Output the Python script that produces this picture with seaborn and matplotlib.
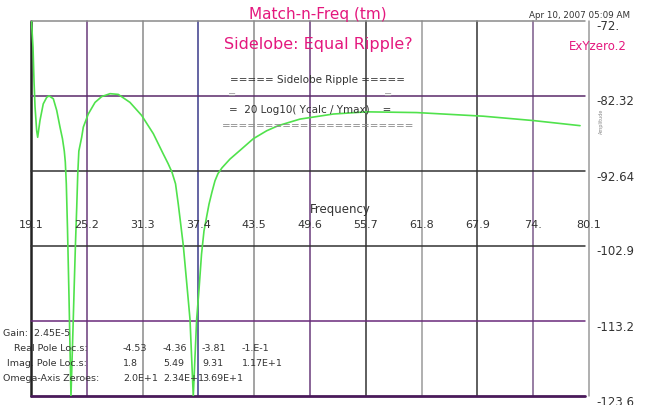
import matplotlib
matplotlib.use("Agg")
import matplotlib.pyplot as plt
import matplotlib.transforms as mtransforms
import seaborn as sns

# curve (frequency vs. 20 log10(Ycalc/Ymax))
freq = [19.15, 19.32, 19.43, 19.54, 19.72, 19.83, 20.08, 20.44, 20.82, 21.07,
        21.54, 21.91, 22.27, 22.54, 22.74, 22.85, 22.96, 23.09, 23.26, 23.47,
        23.69, 23.83, 23.96, 24.10, 24.21, 24.33, 24.64, 24.82, 25.36, 26.1,
        26.83, 27.74, 28.64, 29.92, 31.2, 32.47, 33.56, 34.08, 34.51, 34.90,
        35.20, 35.50, 35.75, 36.12, 36.48, 36.84, 37.21, 37.47, 37.74, 38.01,
        38.29, 38.56, 38.89, 39.21, 39.54, 39.98, 40.85, 41.95, 43.4, 44.87,
        46.13, 48.5, 52.15, 55.8, 61.27, 68.55, 74.01, 79.12]
level = [-72.0, -75.6, -80.3, -83.8, -87.1, -88.0, -85.7, -83.4, -82.5, -82.3,
         -82.7, -84.3, -86.6, -88.2, -89.9, -91.4, -94.4, -100.6, -110.3, -123.6,
         -114.4, -108.2, -102.7, -97.6, -93.1, -89.9, -88.0, -86.6, -84.8, -83.2,
         -82.4, -82.0, -82.1, -83.2, -85.0, -87.5, -90.3, -91.6, -92.8, -94.4,
         -97.2, -100.3, -102.9, -108.0, -113.0, -123.6, -113.0, -108.9, -104.1, -100.9,
         -99.0, -97.2, -95.5, -94.0, -93.0, -92.2, -91.0, -89.8, -88.2, -87.1,
         -86.4, -85.5, -84.8, -84.5, -84.6, -85.1, -85.7, -86.4]

x_ticks = [19.1, 25.2, 31.3, 37.4, 43.5, 49.6, 55.7, 61.8, 67.9, 74.0, 80.1]
x_labels = ["19.1", "25.2", "31.3", "37.4", "43.5", "49.6", "55.7", "61.8", "67.9", "74.", "80.1"]
y_ticks = [-72.0, -82.32, -92.64, -102.96, -113.28, -123.6]
y_labels = ["-72.", "-82.32", "-92.64", "-102.96", "-113.28", "-123.6"]

real_poles = ["-4.53", "-4.36", "-3.81", "-1.E-1"]
imag_poles = ["1.8", "5.49", "9.31", "1.17E+1"]
omega_zeros = ["2.0E+1", "2.34E+1", "3.69E+1"]
gain = "2.45E-5"

pink = "#e4187e"
green = "#50e24c"
vcolors = ["#222222", "#6a3a7a", "#8a8a8a", "#3a3a8a", "#8a8a8a", "#6a3a7a",
           "#333333", "#9a9a9a", "#333333", "#7a5a8a", "#9a9a9a"]
hcolors = ["#8a8a8a", "#5a2a6a", "#333333", "#333333", "#6a2a7a", "#4a1a5a"]

sns.set_style("white")
plt.rcParams["font.family"] = ["DejaVu Sans"]

W, H = 645, 406
fig = plt.figure(figsize=(W / 100, H / 100), dpi=100)
ax = fig.add_axes([31 / W, 1 - 397 / H, (589 - 31) / W, (397 - 22) / H])
for s in ax.spines.values():
    s.set_visible(False)
ax.set_xlim(x_ticks[0], x_ticks[-1])
ax.set_ylim(y_ticks[-1], y_ticks[0])
ax.set_xticks([])
ax.set_yticks([])

for i, (xv, c) in enumerate(zip(x_ticks, vcolors)):
    lw = 1.8 if i == 0 else 1.1
    ax.axvline(xv, color=c, lw=lw, zorder=1, clip_on=False)
for i, (yv, c) in enumerate(zip(y_ticks, hcolors)):
    lw = 2.0 if i == len(y_ticks) - 1 else 1.1
    ax.axhline(yv, xmin=0, xmax=0.993, color=c, lw=lw, zorder=1, clip_on=False)

sns.lineplot(x=freq, y=level, ax=ax, color=green, lw=1.2, sort=False,
             estimator=None, zorder=3)
ax.set_xlabel("")
ax.set_ylabel("")

# x tick labels drawn inside the plot
for xv, lab in zip(x_ticks, x_labels):
    ax.text(xv, 0.459, lab, transform=ax.get_xaxis_transform(), ha="center",
            va="center", fontsize=8, color="#333333", zorder=4)
ax.text(0.554, 0.499, "Frequency", transform=ax.transAxes, ha="center",
        va="center", fontsize=8.5, color="#333333")

# y tick labels on the right, cut off at the right like the original
ytrans = mtransforms.offset_copy(ax.get_yaxis_transform(), fig=fig, y=-5, units="dots")
clip = mtransforms.Bbox.from_extents(0, 0, 634, H)
for yv, lab in zip(y_ticks, y_labels):
    t = ax.text(1.0125, yv, lab, transform=ytrans, ha="left", va="center",
                fontsize=8.5, color="#333333", clip_on=True)
    t.set_clip_box(clip)
fig.text(601 / W, 1 - 121 / H, "Amplitude", rotation=90, fontsize=3.5,
         color="#888888", ha="center", va="center")


def ftext(x, y, s, **kw):
    fig.text(x / W, 1 - y / H, s, va="center", **kw)


ftext(318, 14, "Match-n-Freq (tm)", ha="center", fontsize=11, color=pink)
ftext(318, 45, "Sidelobe: Equal Ripple?", ha="center", fontsize=11.5, color=pink)
ftext(630, 15, "Apr 10, 2007 05:09 AM", ha="right", fontsize=6.3, color="#333333")
ftext(598, 46, "ExYzero.2", ha="center", fontsize=8.5, color=pink)

ftext(318, 80, "===== Sidelobe Ripple =====", ha="center", fontsize=7.5, color="#333333")
ftext(232, 95, "=", ha="center", fontsize=7, color="#999999")
ftext(388, 95, "=", ha="center", fontsize=7, color="#999999")
ftext(229, 110, "=  20 Log10( Ycalc / Ymax)    =", ha="left", fontsize=7.5, color="#333333")
ftext(318, 126, "=" * 22, ha="center", fontsize=7.5, color="#888888")

# parameter table, bottom left
tcol = "#333333"
ftext(3, 333, "Gain:  " + gain, ha="left", fontsize=6.8, color=tcol)
ftext(14, 349, "Real Pole Loc.s:", ha="left", fontsize=6.8, color=tcol)
ftext(7, 364, "Imag. Pole Loc.s:", ha="left", fontsize=6.8, color=tcol)
ftext(3, 379, "Omega-Axis Zeroes:", ha="left", fontsize=6.8, color=tcol)
cols = [123, 163, 202, 242]
for row_y, vals in zip([349, 364, 379], [real_poles, imag_poles, omega_zeros]):
    for cx, v in zip(cols, vals):
        ftext(cx, row_y, v, ha="left", fontsize=6.8, color=tcol)

fig.savefig("out.png", dpi=100)
